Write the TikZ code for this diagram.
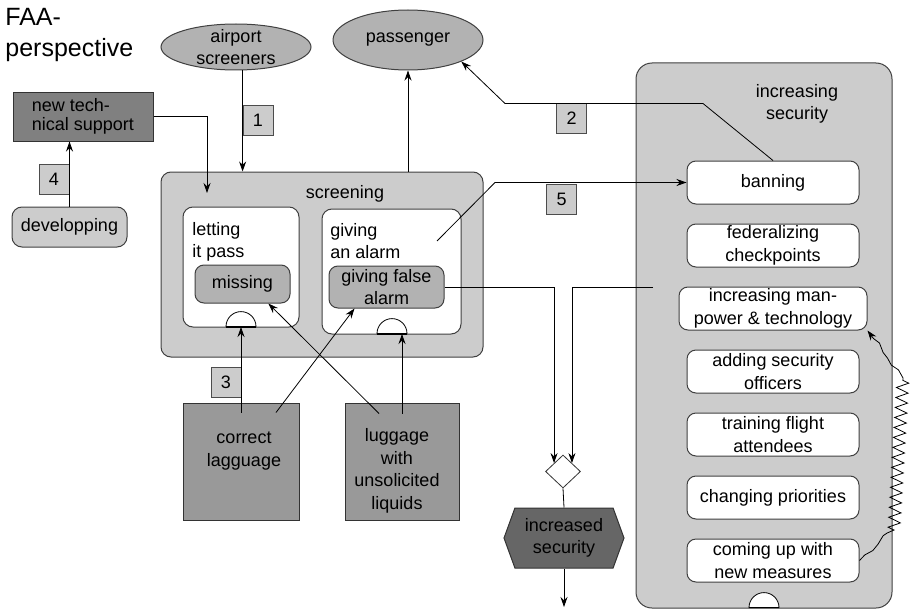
\documentclass[tikz,border=0pt]{standalone}
\usepackage{fontspec}
\setmainfont{Liberation Sans}
\usetikzlibrary{positioning,shapes.geometric,shapes.symbols,arrows.meta,calc,decorations.pathmorphing}

\begin{document}
\begin{tikzpicture}[x=1pt, y=-1pt, line width=0.8pt, font=\fontsize{18}{22.5}\selectfont,
    main/.style = {draw=black!75, fill=black!20, rounded corners=10pt, line width=1pt, inner sep=0pt},
    sub/.style = {draw=black!75, fill=white, rounded corners=9pt, line width=1pt, minimum width=172pt, minimum height=43pt, align=center, inner sep=0pt},
    mid/.style = {draw=black!75, fill=black!30, rounded corners=9pt, line width=1pt, align=center, inner sep=0pt},
    actor/.style = {draw=black!75, fill=black!30, ellipse, minimum width=150pt, align=center, inner sep=0pt, line width=1pt},
    dark/.style = {draw=black!80, fill=black!40, rectangle, line width=1pt, inner sep=0pt},
    tag/.style = {draw=black!70, fill=black!20, minimum width=30pt, minimum height=30pt, inner sep=0pt},
    half/.style = {semicircle, draw=black, fill=white, minimum width=30pt, inner sep=0pt, anchor=chord center},
    arr/.style = {-{Stealth[length=10pt, width=7pt]}}
    ]
\useasboundingbox (0,0) rectangle (910,610);

\node[anchor=north west, inner sep=0pt, align=left, font=\fontsize{25}{31}\selectfont] (0) at (5,8) {FAA-\\perspective};
\node[actor, minimum height=46pt, inner ysep=-4pt] (1) at (236,47) {airport\\screeners};
\node[actor, minimum height=60pt] (2) at (408,40) {passenger};
\node[dark, fill=black!50, minimum width=140pt, minimum height=49pt, align=left, font=\fontsize{18}{19}\selectfont] (3) at (83,116.5) {new tech-\\nical support};
\node[main, minimum width=115pt, minimum height=40pt] (4) at (69.5,227) {developping};

% screening
\node[main, minimum width=322pt, minimum height=185pt] (5) at (322,264.5) {};
\node[anchor=base] (6) at (345,198) {screening};
\node[sub, minimum width=116pt, minimum height=120pt, rounded corners=10pt] (7) at (241,267) {};
\node[anchor=north west, inner sep=0pt, align=left] (8) at (192,222) {letting\\it pass};
\node[mid, minimum width=95pt, minimum height=38pt] (9) at (242.5,284) {missing};
\node[sub, minimum width=139pt, minimum height=125pt, rounded corners=10pt] (10) at (391.5,271.5) {};
\node[anchor=north west, inner sep=0pt, align=left] (11) at (330,223) {giving\\an alarm};
\node[mid, minimum width=115pt, minimum height=42pt] (12) at (386.5,287) {giving false\\alarm};
\node[half] (13) at (241,327) {};
\node[half] (14) at (392,334) {};
\draw[line width=2pt] (13.arc start) -- (13.arc end);
\draw[line width=2pt] (14.arc start) -- (14.arc end);

% luggage
\node[dark, minimum width=116pt, minimum height=117pt] (15) at (241,461.5) {};
\node[align=center] (16) at (244,451) {correct\\lagguage};
\node[dark, minimum width=114pt, minimum height=117pt] (17) at (402,461.5) {};
\node[align=center] (18) at (397,471) {luggage\\with\\unsolicited\\liquids};

\node[diamond, draw=black!80, fill=white, minimum width=35pt, minimum height=33pt, inner sep=0pt] (19) at (563,471.5) {};
\node[signal, signal to=east and west, signal pointer angle=140, draw=black!80, fill=black!60, minimum width=120pt, minimum height=60pt, inner sep=0pt, align=center, line width=1pt] (20) at (564,538) {increased\\security};

% increasing security
\node[main, rounded corners=16pt, minimum width=256pt, minimum height=545pt] (21) at (764,335.5) {};
\node[align=center] (22) at (797,104) {increasing\\security};
\node[sub] (23) at (773,182.5) {banning};
\node[sub] (24) [below=19pt of 23] {federalizing\\checkpoints};
\node[sub, minimum width=188pt] (25) [below=19pt of 24] {increasing man-\\power \& technology};
\node[sub] (26) [below=19pt of 25] {adding security\\officers};
\node[sub] (27) [below=19pt of 26] {training flight\\attendees};
\node[sub] (28) [below=19pt of 27] {changing priorities};
\node[sub] (29) [below=19pt of 28] {coming up with\\new measures};
\node[half] (30) at (764,608) {};

\node[tag] (t1) at (258,120) {1};
\node[tag] (t2) at (571.5,118) {2};
\node[tag] (t3) at (226,382) {3};
\node[tag] (t4) at (54,179.5) {4};
\node[tag] (t5) at (561.5,199) {5};

\coordinate (c1) at (207,193);
\coordinate (c2) at (437,241);
\coordinate (c3) at (495,182.5);
\coordinate (c4) at (653,287);
\coordinate (c5) at (564,607);

\draw[arr] (1.south -| t1.west) -- (t1.west |- 5.north);
\draw[arr] (2.south |- 5.north) -- (2.south);
\draw[arr] (23.north) -- ++(-70,-57) -- ++(-198,0) -- (2.south east);
\draw[arr] (3.east) -| (c1);
\draw[arr] (4) -- (4 |- 3.south);
\draw[arr] (c2) -- (c3) -- (23.west);
\draw[arr] (12.east) -| (19.north west);
\draw[arr] (c4) -| (19.north east);
\draw (19.south) -- (20.north);
\draw[arr] (20.south) -- (c5);
\draw[arr] ($(15.north)+(0,10)$) -- (13.chord center);
\draw[arr] ($(15.north)+(35,10)$) -- ($(12.south west)+(26,0)$);
\draw[arr] ($(17.north)+(-23,11)$) -- (9.-37);
\draw[arr] ($(17.north)+(0,11)$) -- (17.north |- 14.chord center);
\pgfmathsetseed{7}
\draw[arr] (29.east) decorate[decoration={random steps, segment length=8pt, amplitude=3pt}] {-- (894,530)}
    decorate[decoration={zigzag, segment length=10pt, amplitude=6pt}] {-- (903,378)}
    decorate[decoration={random steps, segment length=8pt, amplitude=3pt, post length=10pt}] {-- (25.south east)};

\end{tikzpicture}
\end{document}
